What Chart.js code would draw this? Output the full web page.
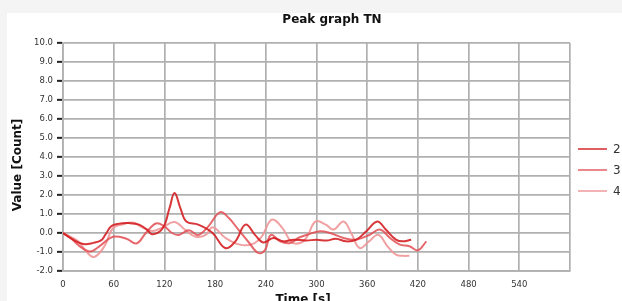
<!DOCTYPE html>
<html>
<head>
<meta charset="UTF-8">
<title>Peak graph TN</title>
<style>
  html, body { margin: 0; padding: 0; background: #f4f4f4; overflow: hidden; }
  .chartBox { position: absolute; left: 7px; top: 13px; width: 615px; height: 300px; background: #fff; }
</style>
</head>
<body>
<div class="chartBox"><canvas id="myChart" width="615" height="300"></canvas></div>
<script src="https://cdn.jsdelivr.net/npm/chart.js"></script>
<script>
// ---- data ----
const chartTitle = 'Peak graph TN';
const xTitle = 'Time [s]';
const yTitle = 'Value [Count]';
const seriesNames = ['2', '3', '4'];
const seriesColors = ['rgba(212,32,36,0.9)', 'rgba(226,78,82,0.85)', 'rgba(240,150,152,0.9)'];

const times2  = [0, 12, 24, 36, 45, 50, 57, 65, 78, 90, 100, 106, 118, 126, 132, 139, 146, 160, 177, 192, 204, 216, 228, 237, 249, 261, 273, 288, 300, 312, 323, 335, 347, 359, 372, 382, 394, 402, 412];
const values2 = [0, -0.35, -0.58, -0.52, -0.39, -0.1, 0.35, 0.48, 0.52, 0.44, 0.15, -0.07, 0.25, 1.3, 2.1, 1.3, 0.6, 0.44, 0, -0.79, -0.44, 0.44, -0.14, -0.5, -0.26, -0.44, -0.35, -0.4, -0.35, -0.4, -0.3, -0.44, -0.35, 0.09, 0.61, 0.18, -0.35, -0.44, -0.35];

const times3  = [0, 10, 20, 32, 43, 59, 75, 87, 98, 110, 120, 129, 137, 149, 160, 172, 186, 196, 208, 220, 231, 239, 246, 257, 269, 279, 289, 304, 316, 332, 347, 363, 375, 387, 398, 410, 420, 430];
const values3 = [0, -0.3, -0.7, -0.97, -0.7, -0.2, -0.3, -0.55, 0, 0.5, 0.35, 0, -0.1, 0.15, -0.1, 0.35, 1.1, 0.8, 0.15, -0.5, -1.05, -0.9, -0.1, -0.44, -0.53, -0.25, -0.09, 0.09, 0, -0.26, -0.35, -0.09, 0.18, -0.26, -0.6, -0.7, -0.91, -0.44];

const times4  = [0, 18, 28, 37, 49, 59, 70, 83, 94, 106, 118, 132, 145, 157, 169, 177, 192, 208, 223, 235, 247, 259, 271, 282, 289, 299, 311, 320, 332, 341, 351, 362, 373, 384, 394, 403, 410];
const values4 = [0, -0.44, -1.0, -1.26, -0.7, 0.25, 0.45, 0.55, 0.3, 0.1, 0.3, 0.58, 0.15, -0.2, -0.1, 0.3, -0.25, -0.6, -0.6, -0.2, 0.7, 0.3, -0.5, -0.5, -0.18, 0.61, 0.44, 0.18, 0.61, 0, -0.79, -0.45, -0.09, -0.7, -1.14, -1.2, -1.2];

const xMin = 0, xMax = 600, xStep = 60;
const yMin = -2, yMax = 10, yStep = 1;

const allTimes = [times2, times3, times4];
const allValues = [values2, values3, values4];

function points(ts, vs) {
  return ts.map((t, i) => ({ x: t, y: vs[i] }));
}

const tickFont = { family: 'DejaVu Sans', size: 8.5 };

// titles and legend drawn by hand so they sit where the picture has them
const extras = {
  id: 'extras',
  afterDraw(chart) {
    const ctx = chart.ctx;
    ctx.save();
    ctx.fillStyle = '#111';
    ctx.font = 'bold 12px "DejaVu Sans"';
    ctx.textAlign = 'center';
    ctx.textBaseline = 'alphabetic';
    ctx.fillText(chartTitle, 325, 10);
    ctx.fillText(xTitle, 296, 290);
    ctx.save();
    ctx.translate(14, 152);
    ctx.rotate(-Math.PI / 2);
    ctx.fillText(yTitle, 0, 0);
    ctx.restore();

    // legend
    ctx.font = '12px "DejaVu Sans"';
    ctx.textAlign = 'left';
    ctx.textBaseline = 'middle';
    seriesNames.forEach((name, i) => {
      const y = 136 + i * 21;
      ctx.strokeStyle = seriesColors[i];
      ctx.lineWidth = 1.6;
      ctx.beginPath();
      ctx.moveTo(571, y);
      ctx.lineTo(600, y);
      ctx.stroke();
      ctx.fillStyle = '#333';
      ctx.fillText(name, 606, y + 1);
    });
    ctx.restore();
  }
};

const myChart = new Chart(document.getElementById('myChart'), {
  type: 'line',
  data: {
    datasets: seriesNames.map((name, i) => ({
      label: name,
      data: points(allTimes[i], allValues[i]),
      borderColor: seriesColors[i],
      borderWidth: 2,
      pointRadius: 0,
      tension: 0.4,
      fill: false
    }))
  },
  options: {
    responsive: false,
    animation: false,
    devicePixelRatio: 1,
    layout: { padding: { left: 0, top: 30, right: 52, bottom: 0 } },
    plugins: {
      legend: { display: false },
      title: { display: false },
      tooltip: { enabled: false }
    },
    scales: {
      x: {
        type: 'linear',
        min: xMin,
        max: xMax,
        ticks: {
          stepSize: xStep,
          font: tickFont,
          color: '#333',
          padding: 9,
          maxRotation: 0,
          callback: v => (v === xMax ? '' : v)
        },
        grid: { color: '#b0b0b0', lineWidth: 1.7, drawTicks: false },
        border: { color: '#b0b0b0', width: 1.7 },
        afterFit: s => { s.height = 42; }
      },
      y: {
        min: yMin,
        max: yMax,
        ticks: {
          stepSize: yStep,
          font: tickFont,
          color: '#333',
          padding: 4,
          callback: v => v.toFixed(1)
        },
        grid: { color: '#b0b0b0', lineWidth: 1.7, tickColor: '#222', tickLength: 6, tickWidth: 2 },
        border: { color: '#b0b0b0', width: 1.7 },
        afterFit: s => { s.width = 56; }
      }
    }
  },
  plugins: [extras]
});
</script>
</body>
</html>
